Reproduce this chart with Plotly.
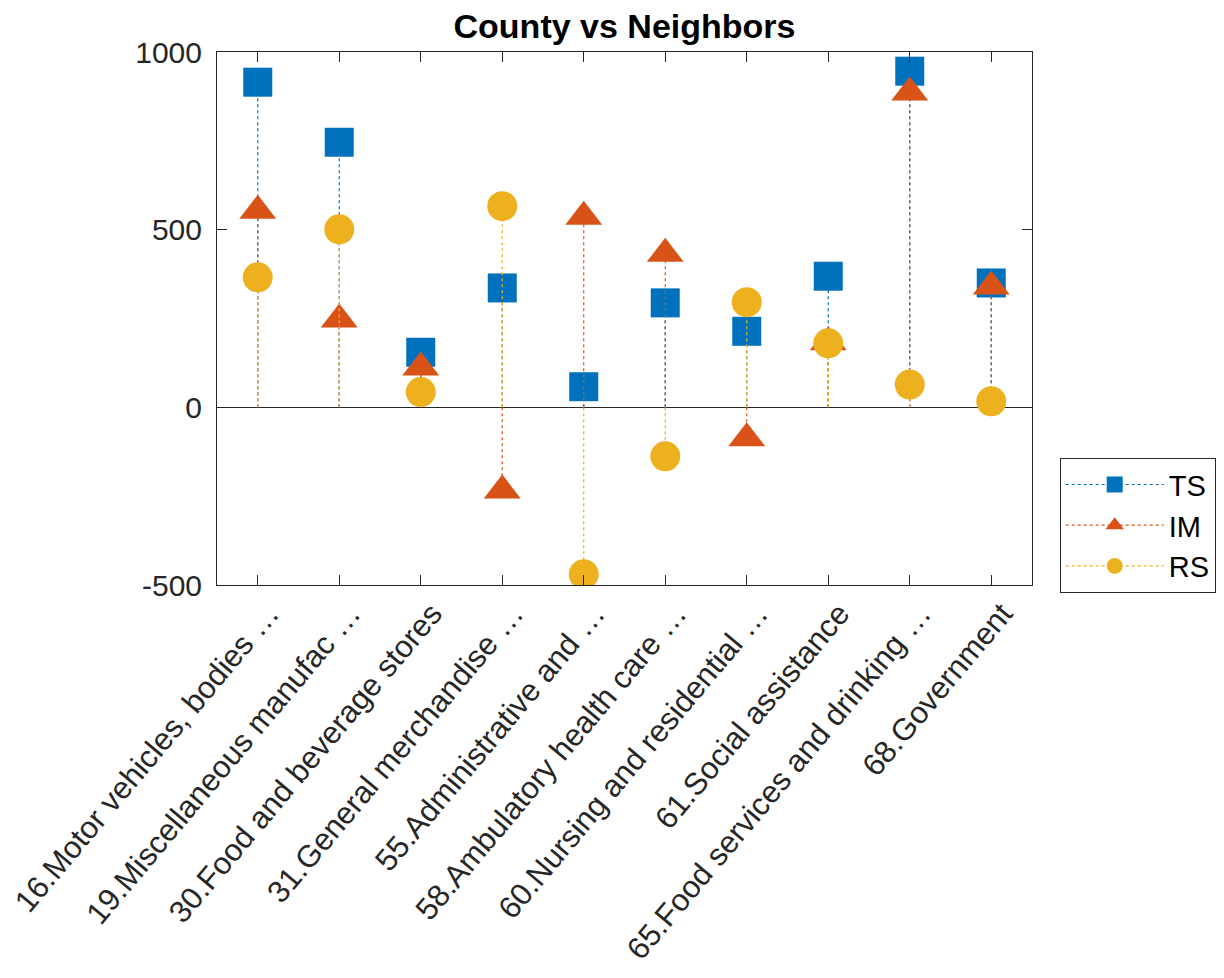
import plotly.graph_objects as go

categories = [
    "16.Motor vehicles, bodies …",
    "19.Miscellaneous manufac …",
    "30.Food and beverage stores",
    "31.General merchandise …",
    "55.Administrative and …",
    "58.Ambulatory health care …",
    "60.Nursing and residential …",
    "61.Social assistance",
    "65.Food services and drinking …",
    "68.Government",
]
ts_values = [915, 746, 155, 336, 58, 294, 214, 369, 946, 350]
im_values = [553, 247, 112, -234, 536, 432, -87, 183, 886, 340]
rs_values = [366, 501, 43, 566, -470, -138, 296, 180, 64, 17]

y_ticks = [-500, 0, 500, 1000]
y_tick_text = ["-500", "0", "500", "1000"]

TEXT = "#262626"
FONT = "Liberation Sans, Arial, Helvetica, sans-serif"
series = [
    ("TS", ts_values, "#0072BD", "square", 29),
    ("IM", im_values, "#D95319", "triangle-up", 32),
    ("RS", rs_values, "#EDB120", "circle", 30),
]

fig = go.Figure()
pos = list(range(1, len(categories) + 1))
for name, vals, color, symbol, size in series:
    # stem from baseline to value; None breaks the line between stems
    xs, ys, sizes = [], [], []
    for p, v in zip(pos, vals):
        xs += [p, p, None]
        ys += [0, v, None]
        sizes += [0, size, size]  # size on the None slot only lifts the legend symbol
    fig.add_trace(
        go.Scatter(
            x=xs, y=ys, mode="lines+markers", name=name,
            line=dict(color=color, width=1.2, dash="dot"),
            marker=dict(symbol=symbol, size=sizes, color=color, opacity=1,
                        line=dict(width=0)),
            connectgaps=False,
        )
    )

fig.update_layout(
    width=1224,
    height=978,
    paper_bgcolor="white",
    plot_bgcolor="white",
    font=dict(family=FONT, color=TEXT, size=31),
    title=dict(
        text="<b>County vs Neighbors</b>",
        x=0.5, xref="paper", xanchor="center",
        y=1 - 18 / 978, yref="container", yanchor="middle",
        font=dict(size=34, color="black"),
    ),
    margin=dict(l=209, r=200, t=44, b=401, autoexpand=False),
    legend=dict(
        x=1.034, y=0.238, xanchor="left", yanchor="top",
        bordercolor=TEXT, borderwidth=1, bgcolor="white",
        font=dict(size=29, color="black"),
        itemsizing="trace",
        itemwidth=98,
    ),
    showlegend=True,
)
fig.update_xaxes(
    range=[0.5, 10.5],
    tickvals=pos,
    ticktext=categories,
    tickangle=-50,
    ticks="inside", ticklen=10, tickcolor=TEXT,
    showline=True, linecolor=TEXT, linewidth=1, mirror="ticks",
    showgrid=False, zeroline=False,
    automargin=False,
    ticklabelstandoff=-3,
    ticklabelshift=11,
    ticklabeloverflow="allow",
    tickfont=dict(size=31, color=TEXT),
)
fig.update_yaxes(
    range=[-500, 1000],
    tickvals=y_ticks,
    ticktext=y_tick_text,
    ticks="inside", ticklen=10, tickcolor=TEXT,
    showline=True, linecolor=TEXT, linewidth=1, mirror="ticks",
    showgrid=False,
    zeroline=True, zerolinecolor=TEXT, zerolinewidth=1,
    automargin=False,
    ticklabelstandoff=8,
    tickfont=dict(size=30, color=TEXT),
)

fig.write_html("out.html")
